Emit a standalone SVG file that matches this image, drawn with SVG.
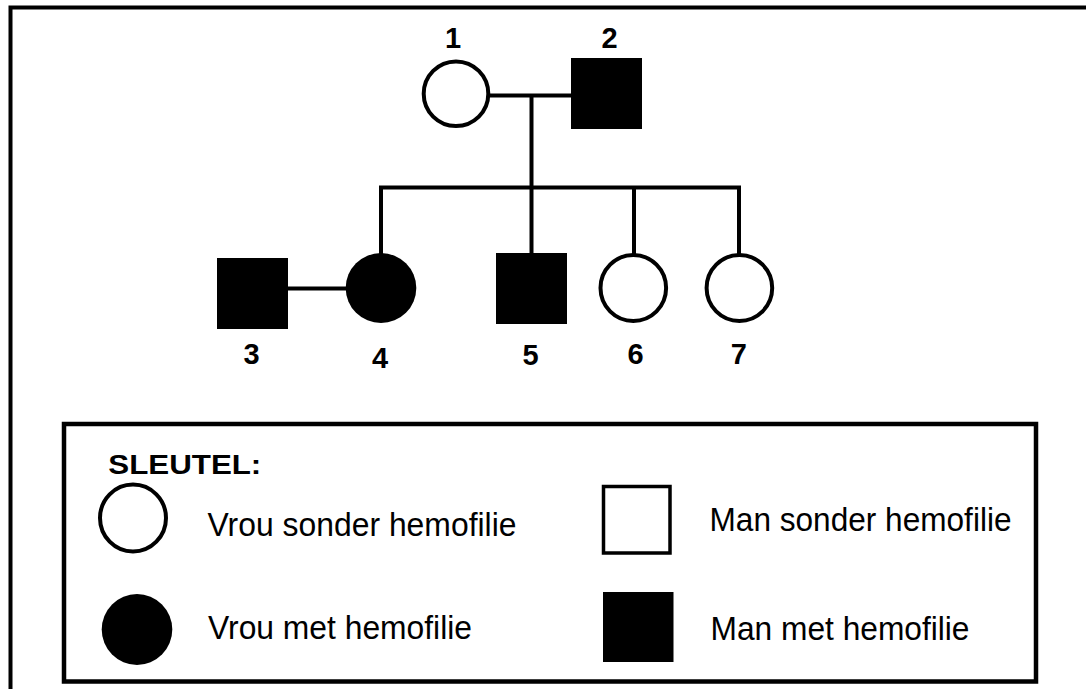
<svg xmlns="http://www.w3.org/2000/svg" width="1086" height="689" viewBox="0 0 1086 689">
<style>
.ln{stroke:#000;stroke-width:4;fill:none}
.open{fill:#fff;stroke:#000;stroke-width:4}
.fill{fill:#000;stroke:none}
.num{font-family:"Liberation Sans",Arial,sans-serif;font-weight:bold;font-size:29px;text-anchor:middle;fill:#000}
.key{font-family:"Liberation Sans",Arial,sans-serif;font-size:33px;fill:#000}
.keyh{font-family:"Liberation Sans",Arial,sans-serif;font-weight:bold;font-size:28px;fill:#000}
</style>
<rect x="0" y="0" width="1086" height="689" fill="#fff"/>
<rect x="10.5" y="7.5" width="1100" height="720" fill="none" stroke="#000" stroke-width="4"/>
<g id="connectors">
<line class="ln" x1="488" y1="95.5" x2="571" y2="95.5"/>
<line class="ln" x1="531.5" y1="95.5" x2="531.5" y2="187.5"/>
<line class="ln" x1="379" y1="187.5" x2="741" y2="187.5"/>
<line class="ln" x1="381" y1="187.5" x2="381" y2="254"/>
<line class="ln" x1="531.5" y1="187.5" x2="531.5" y2="254"/>
<line class="ln" x1="634" y1="187.5" x2="634" y2="255"/>
<line class="ln" x1="739" y1="187.5" x2="739" y2="255"/>
<line class="ln" x1="287" y1="288.5" x2="347" y2="288.5"/>
</g>
<g id="node1"><circle class="open" cx="456" cy="93.7" r="32.3"/><text class="num" x="453" y="48">1</text></g>
<g id="node2"><rect class="fill" x="571" y="58" width="71" height="71"/><text class="num" x="609.5" y="47.5">2</text></g>
<g id="node3"><rect class="fill" x="217" y="258" width="71" height="71"/><text class="num" x="251.5" y="364">3</text></g>
<g id="node4"><ellipse class="fill" cx="381" cy="288" rx="35.3" ry="35"/><text class="num" x="380" y="368">4</text></g>
<g id="node5"><rect class="fill" x="496" y="253" width="71" height="71"/><text class="num" x="530.5" y="364.5">5</text></g>
<g id="node6"><ellipse class="open" cx="633.3" cy="288" rx="32.8" ry="33"/><text class="num" x="635.5" y="364">6</text></g>
<g id="node7"><ellipse class="open" cx="739.4" cy="288" rx="32.8" ry="33"/><text class="num" x="738.8" y="364">7</text></g>
<g id="legend">
<rect x="64" y="424" width="972" height="257.5" fill="none" stroke="#000" stroke-width="4.5"/>
<text class="keyh" x="108.3" y="473.5" textLength="153" lengthAdjust="spacingAndGlyphs">SLEUTEL:</text>
<ellipse class="open" cx="133" cy="518" rx="33" ry="33.5"/>
<text class="key" x="207.5" y="536" textLength="309" lengthAdjust="spacingAndGlyphs">Vrou sonder hemofilie</text>
<ellipse class="fill" cx="137" cy="629.5" rx="35.3" ry="35.5"/>
<text class="key" x="208" y="639" textLength="264" lengthAdjust="spacingAndGlyphs">Vrou met hemofilie</text>
<rect x="603.5" y="486.5" width="66.5" height="66.5" fill="#fff" stroke="#000" stroke-width="3.5"/>
<text class="key" x="709.5" y="531" textLength="302" lengthAdjust="spacingAndGlyphs">Man sonder hemofilie</text>
<rect class="fill" x="603" y="592" width="70.5" height="70"/>
<text class="key" x="710.5" y="640" textLength="259" lengthAdjust="spacingAndGlyphs">Man met hemofilie</text>
</g>
</svg>
